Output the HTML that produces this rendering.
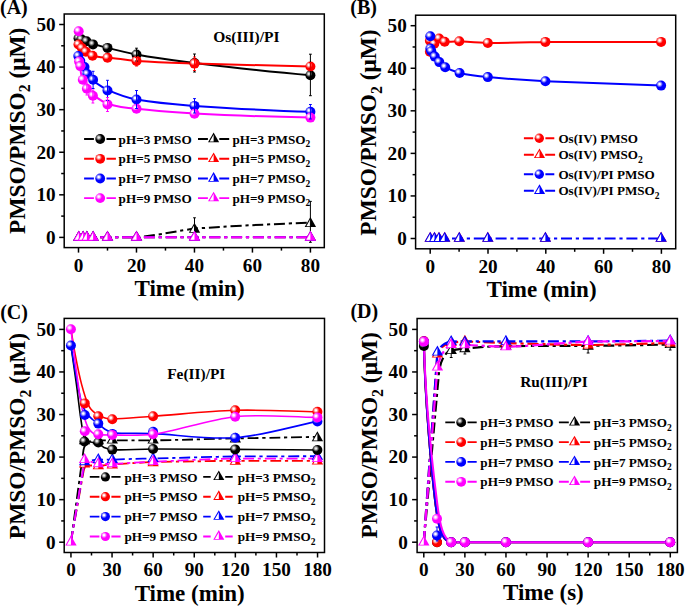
<!DOCTYPE html>
<html><head><meta charset="utf-8"><style>html,body{margin:0;padding:0;background:#fff;overflow:hidden}svg{display:block}</style></head><body>
<svg width="685" height="606" viewBox="0 0 685 606" font-family='"Liberation Serif", serif' font-weight="bold">
<defs>
<radialGradient id="gk" cx="0.35" cy="0.35" r="0.33" fx="0.35" fy="0.35" gradientUnits="objectBoundingBox">
<stop offset="0" stop-color="#e8e8e8"/><stop offset="0.22" stop-color="#e8e8e8"/><stop offset="1" stop-color="#000000"/>
</radialGradient>
<radialGradient id="gr" cx="0.35" cy="0.35" r="0.33" fx="0.35" fy="0.35" gradientUnits="objectBoundingBox">
<stop offset="0" stop-color="#ffffff"/><stop offset="0.22" stop-color="#ffffff"/><stop offset="1" stop-color="#ff0000"/>
</radialGradient>
<radialGradient id="gb" cx="0.35" cy="0.35" r="0.33" fx="0.35" fy="0.35" gradientUnits="objectBoundingBox">
<stop offset="0" stop-color="#ffffff"/><stop offset="0.22" stop-color="#ffffff"/><stop offset="1" stop-color="#0000ff"/>
</radialGradient>
<radialGradient id="gm" cx="0.35" cy="0.35" r="0.33" fx="0.35" fy="0.35" gradientUnits="objectBoundingBox">
<stop offset="0" stop-color="#ffffff"/><stop offset="0.22" stop-color="#ffffff"/><stop offset="1" stop-color="#ff00ff"/>
</radialGradient>
</defs>
<rect width="685" height="606" fill="#fff"/>
<rect x="64.2" y="14" width="260.1" height="233.6" fill="none" stroke="#000" stroke-width="1.5"/>
<path d="M59.2,237.4 H64.2" stroke="#000" stroke-width="1.5"/>
<text x="55.6" y="243.7" font-size="19.2" text-anchor="end">0</text>
<path d="M61.2,216.11 H64.2" stroke="#000" stroke-width="1.5"/>
<path d="M59.2,194.82 H64.2" stroke="#000" stroke-width="1.5"/>
<text x="55.6" y="201.12" font-size="19.2" text-anchor="end">10</text>
<path d="M61.2,173.53 H64.2" stroke="#000" stroke-width="1.5"/>
<path d="M59.2,152.24 H64.2" stroke="#000" stroke-width="1.5"/>
<text x="55.6" y="158.54" font-size="19.2" text-anchor="end">20</text>
<path d="M61.2,130.95 H64.2" stroke="#000" stroke-width="1.5"/>
<path d="M59.2,109.66 H64.2" stroke="#000" stroke-width="1.5"/>
<text x="55.6" y="115.96" font-size="19.2" text-anchor="end">30</text>
<path d="M61.2,88.37 H64.2" stroke="#000" stroke-width="1.5"/>
<path d="M59.2,67.08 H64.2" stroke="#000" stroke-width="1.5"/>
<text x="55.6" y="73.38" font-size="19.2" text-anchor="end">40</text>
<path d="M61.2,45.79 H64.2" stroke="#000" stroke-width="1.5"/>
<path d="M59.2,24.5 H64.2" stroke="#000" stroke-width="1.5"/>
<text x="55.6" y="30.8" font-size="19.2" text-anchor="end">50</text>
<path d="M78.5,247.6 V252.6" stroke="#000" stroke-width="1.5"/>
<text x="78.5" y="271.7" font-size="19.2" text-anchor="middle">0</text>
<path d="M136.48,247.6 V252.6" stroke="#000" stroke-width="1.5"/>
<text x="136.48" y="271.7" font-size="19.2" text-anchor="middle">20</text>
<path d="M194.46,247.6 V252.6" stroke="#000" stroke-width="1.5"/>
<text x="194.46" y="271.7" font-size="19.2" text-anchor="middle">40</text>
<path d="M252.44,247.6 V252.6" stroke="#000" stroke-width="1.5"/>
<text x="252.44" y="271.7" font-size="19.2" text-anchor="middle">60</text>
<path d="M310.42,247.6 V252.6" stroke="#000" stroke-width="1.5"/>
<text x="310.42" y="271.7" font-size="19.2" text-anchor="middle">80</text>
<path d="M107.49,247.6 V250.6" stroke="#000" stroke-width="1.5"/>
<path d="M165.47,247.6 V250.6" stroke="#000" stroke-width="1.5"/>
<path d="M223.45,247.6 V250.6" stroke="#000" stroke-width="1.5"/>
<path d="M281.43,247.6 V250.6" stroke="#000" stroke-width="1.5"/>
<text transform="translate(24.5,130.75) rotate(-90)" font-size="23.4" text-anchor="middle">PMSO/PMSO<tspan font-size="15.8" dy="5.5">2</tspan><tspan dy="-5.5"> (μM)</tspan></text>
<text x="189.5" y="296.1" font-size="23" text-anchor="middle">Time (min)</text>
<text x="0" y="13.5" font-size="20" text-anchor="start">(A)</text>
<text x="213.2" y="41.9" font-size="15.5" text-anchor="start">Os(III)/PI</text>
<path d="M78.5,237.3 L136.5,237.3 C160,235 180,230.5 194.5,228.6 C240,225.5 280,223.8 310.4,222.6" fill="none" stroke="#000000" stroke-width="2" stroke-dasharray="11 3.8 3.2 3.8"/>
<path d="M78.5,237.3 H310.4" fill="none" stroke="#ff0000" stroke-width="2" stroke-dasharray="11 3.8 3.2 3.8"/>
<path d="M78.5,237.3 H310.4" fill="none" stroke="#0000ff" stroke-width="2" stroke-dasharray="11 3.8 3.2 3.8"/>
<path d="M78.5,237.3 H310.4" fill="none" stroke="#ff00ff" stroke-width="2" stroke-dasharray="11 3.8 3.2 3.8"/>
<path d="M78.5,38.3 C84,40.5 95,45 107.5,47.9 C120,51 130,53.3 136.5,54.6 C160,59 180,61.2 194.5,63.0 C240,68.5 280,72.8 310.4,75.3" fill="none" stroke="#000000" stroke-width="2"/>
<path d="M78.5,42 C82,50 88,54.5 93,56 C100,57.2 104,57.6 107.5,57.8 C120,59 130,60.3 136.5,60.9 C160,62.3 180,63 194.5,63.6 C240,65 280,66 310.4,66.5" fill="none" stroke="#ff0000" stroke-width="2"/>
<path d="M78.5,56 C80,64 84,72 88,76 C92,80 98,85 107.5,89.8 C118,94.5 128,97.8 136.5,99.5 C160,103.5 180,104.8 194.5,105.9 C240,109 280,111 310.4,111.8" fill="none" stroke="#0000ff" stroke-width="2"/>
<path d="M78.6,31.2 C78.8,45 79,58 80,67 C81,76 84,85 88,89.5 C93,95 100,100.5 107.5,103.8 C118,107 128,108.2 136.5,108.8 C160,111.5 180,112.6 194.5,113.6 C240,116 280,117 310.4,117.6" fill="none" stroke="#ff00ff" stroke-width="2"/>
<circle cx="78.5" cy="38.3" r="5" fill="url(#gk)"/>
<circle cx="81.4" cy="39.3" r="5" fill="url(#gk)"/>
<circle cx="86.5" cy="41.2" r="5" fill="url(#gk)"/>
<circle cx="93" cy="44.4" r="5" fill="url(#gk)"/>
<circle cx="107.5" cy="47.9" r="5" fill="url(#gk)"/>
<circle cx="136.5" cy="54.6" r="5" fill="url(#gk)"/>
<circle cx="194.5" cy="63" r="5" fill="url(#gk)"/>
<circle cx="310.4" cy="75.3" r="5" fill="url(#gk)"/>
<circle cx="78.5" cy="44.5" r="5" fill="url(#gr)"/>
<circle cx="81.9" cy="48.1" r="5" fill="url(#gr)"/>
<circle cx="85.9" cy="51.8" r="5" fill="url(#gr)"/>
<circle cx="92.5" cy="55.8" r="5" fill="url(#gr)"/>
<circle cx="107.5" cy="57.8" r="5" fill="url(#gr)"/>
<circle cx="136.5" cy="60.9" r="5" fill="url(#gr)"/>
<circle cx="194.5" cy="63.6" r="5" fill="url(#gr)"/>
<circle cx="310.4" cy="66.5" r="5" fill="url(#gr)"/>
<circle cx="78.3" cy="56" r="5" fill="url(#gb)"/>
<circle cx="80.3" cy="61" r="5" fill="url(#gb)"/>
<circle cx="84.5" cy="67" r="5" fill="url(#gb)"/>
<circle cx="87.3" cy="74" r="5" fill="url(#gb)"/>
<circle cx="93.1" cy="79.8" r="5" fill="url(#gb)"/>
<circle cx="107.5" cy="90.5" r="5" fill="url(#gb)"/>
<circle cx="136.5" cy="99.5" r="5" fill="url(#gb)"/>
<circle cx="194.5" cy="105.9" r="5" fill="url(#gb)"/>
<circle cx="310.4" cy="111.8" r="5" fill="url(#gb)"/>
<circle cx="78.7" cy="31.2" r="5" fill="url(#gm)"/>
<circle cx="79.1" cy="61.5" r="5" fill="url(#gm)"/>
<circle cx="80.3" cy="66.1" r="5" fill="url(#gm)"/>
<circle cx="82.8" cy="79.7" r="5" fill="url(#gm)"/>
<circle cx="86.9" cy="88.7" r="5" fill="url(#gm)"/>
<circle cx="92.9" cy="95.8" r="5" fill="url(#gm)"/>
<circle cx="107.5" cy="104.4" r="5" fill="url(#gm)"/>
<circle cx="136.5" cy="108.8" r="5" fill="url(#gm)"/>
<circle cx="194.5" cy="113.8" r="5" fill="url(#gm)"/>
<circle cx="310.4" cy="117.6" r="5" fill="url(#gm)"/>
<path d="M136.5,48.2 V61 M135.1,48.2 H137.9 M135.1,61 H137.9" stroke="#000000" stroke-width="1.0" fill="none"/>
<path d="M194.5,54 V72 M193.1,54 H195.9 M193.1,72 H195.9" stroke="#000000" stroke-width="1.0" fill="none"/>
<path d="M310.4,54.2 V95.7 M309,54.2 H311.8 M309,95.7 H311.8" stroke="#000000" stroke-width="1.0" fill="none"/>
<path d="M136.5,57.5 V66 M135.1,57.5 H137.9 M135.1,66 H137.9" stroke="#ff0000" stroke-width="1.0" fill="none"/>
<path d="M194.5,57 V70.5 M193.1,57 H195.9 M193.1,70.5 H195.9" stroke="#ff0000" stroke-width="1.0" fill="none"/>
<path d="M310.4,62.5 V70.5 M309,62.5 H311.8 M309,70.5 H311.8" stroke="#ff0000" stroke-width="1.0" fill="none"/>
<path d="M93.1,71.3 V88.5 M91.7,71.3 H94.5 M91.7,88.5 H94.5" stroke="#0000ff" stroke-width="1.0" fill="none"/>
<path d="M107.5,80.3 V100.5 M106.1,80.3 H108.9 M106.1,100.5 H108.9" stroke="#0000ff" stroke-width="1.0" fill="none"/>
<path d="M136.5,90.5 V108.5 M135.1,90.5 H137.9 M135.1,108.5 H137.9" stroke="#0000ff" stroke-width="1.0" fill="none"/>
<path d="M194.5,98.6 V113 M193.1,98.6 H195.9 M193.1,113 H195.9" stroke="#0000ff" stroke-width="1.0" fill="none"/>
<path d="M310.4,104.5 V119 M309,104.5 H311.8 M309,119 H311.8" stroke="#0000ff" stroke-width="1.0" fill="none"/>
<path d="M92.9,90 V103 M91.5,90 H94.3 M91.5,103 H94.3" stroke="#ff00ff" stroke-width="1.0" fill="none"/>
<path d="M107.5,97.5 V111.5 M106.1,97.5 H108.9 M106.1,111.5 H108.9" stroke="#ff00ff" stroke-width="1.0" fill="none"/>
<path d="M86.9,83 V95 M85.5,83 H88.3 M85.5,95 H88.3" stroke="#ff00ff" stroke-width="1.0" fill="none"/>
<path d="M78.8,230.63 L84.5,240.63 L73.1,240.63 Z" fill="#000000"/>
<path d="M78.8,232.75 L78.8,239.83 L74.76,239.83 Z" fill="#fff"/>
<path d="M83.1,230.63 L88.8,240.63 L77.4,240.63 Z" fill="#000000"/>
<path d="M83.1,232.75 L83.1,239.83 L79.06,239.83 Z" fill="#fff"/>
<path d="M86.9,230.63 L92.6,240.63 L81.2,240.63 Z" fill="#000000"/>
<path d="M86.9,232.75 L86.9,239.83 L82.86,239.83 Z" fill="#fff"/>
<path d="M93.1,230.63 L98.8,240.63 L87.4,240.63 Z" fill="#000000"/>
<path d="M93.1,232.75 L93.1,239.83 L89.06,239.83 Z" fill="#fff"/>
<path d="M107.5,230.63 L113.2,240.63 L101.8,240.63 Z" fill="#000000"/>
<path d="M107.5,232.75 L107.5,239.83 L103.46,239.83 Z" fill="#fff"/>
<path d="M136.5,230.63 L142.2,240.63 L130.8,240.63 Z" fill="#000000"/>
<path d="M136.5,232.75 L136.5,239.83 L132.46,239.83 Z" fill="#fff"/>
<path d="M194.5,222.73 L200.2,232.73 L188.8,232.73 Z" fill="#000000"/>
<path d="M194.5,224.85 L194.5,231.93 L190.46,231.93 Z" fill="#fff"/>
<path d="M310.4,216.93 L316.1,226.93 L304.7,226.93 Z" fill="#000000"/>
<path d="M310.4,219.05 L310.4,226.13 L306.36,226.13 Z" fill="#fff"/>
<path d="M194.5,217.8 V236 M193.1,217.8 H195.9 M193.1,236 H195.9" stroke="#000000" stroke-width="1.0" fill="none"/>
<path d="M310.4,201.4 V242.3 M309,201.4 H311.8 M309,242.3 H311.8" stroke="#000000" stroke-width="1.0" fill="none"/>
<path d="M78.8,230.63 L84.5,240.63 L73.1,240.63 Z" fill="#ff0000"/>
<path d="M78.8,232.75 L78.8,239.83 L74.76,239.83 Z" fill="#fff"/>
<path d="M83.1,230.63 L88.8,240.63 L77.4,240.63 Z" fill="#ff0000"/>
<path d="M83.1,232.75 L83.1,239.83 L79.06,239.83 Z" fill="#fff"/>
<path d="M86.9,230.63 L92.6,240.63 L81.2,240.63 Z" fill="#ff0000"/>
<path d="M86.9,232.75 L86.9,239.83 L82.86,239.83 Z" fill="#fff"/>
<path d="M93.1,230.63 L98.8,240.63 L87.4,240.63 Z" fill="#ff0000"/>
<path d="M93.1,232.75 L93.1,239.83 L89.06,239.83 Z" fill="#fff"/>
<path d="M107.5,230.63 L113.2,240.63 L101.8,240.63 Z" fill="#ff0000"/>
<path d="M107.5,232.75 L107.5,239.83 L103.46,239.83 Z" fill="#fff"/>
<path d="M136.5,230.63 L142.2,240.63 L130.8,240.63 Z" fill="#ff0000"/>
<path d="M136.5,232.75 L136.5,239.83 L132.46,239.83 Z" fill="#fff"/>
<path d="M194.5,230.63 L200.2,240.63 L188.8,240.63 Z" fill="#ff0000"/>
<path d="M194.5,232.75 L194.5,239.83 L190.46,239.83 Z" fill="#fff"/>
<path d="M310.4,230.63 L316.1,240.63 L304.7,240.63 Z" fill="#ff0000"/>
<path d="M310.4,232.75 L310.4,239.83 L306.36,239.83 Z" fill="#fff"/>
<path d="M78.8,230.63 L84.5,240.63 L73.1,240.63 Z" fill="#0000ff"/>
<path d="M78.8,232.75 L78.8,239.83 L74.76,239.83 Z" fill="#fff"/>
<path d="M83.1,230.63 L88.8,240.63 L77.4,240.63 Z" fill="#0000ff"/>
<path d="M83.1,232.75 L83.1,239.83 L79.06,239.83 Z" fill="#fff"/>
<path d="M86.9,230.63 L92.6,240.63 L81.2,240.63 Z" fill="#0000ff"/>
<path d="M86.9,232.75 L86.9,239.83 L82.86,239.83 Z" fill="#fff"/>
<path d="M93.1,230.63 L98.8,240.63 L87.4,240.63 Z" fill="#0000ff"/>
<path d="M93.1,232.75 L93.1,239.83 L89.06,239.83 Z" fill="#fff"/>
<path d="M107.5,230.63 L113.2,240.63 L101.8,240.63 Z" fill="#0000ff"/>
<path d="M107.5,232.75 L107.5,239.83 L103.46,239.83 Z" fill="#fff"/>
<path d="M136.5,230.63 L142.2,240.63 L130.8,240.63 Z" fill="#0000ff"/>
<path d="M136.5,232.75 L136.5,239.83 L132.46,239.83 Z" fill="#fff"/>
<path d="M194.5,230.63 L200.2,240.63 L188.8,240.63 Z" fill="#0000ff"/>
<path d="M194.5,232.75 L194.5,239.83 L190.46,239.83 Z" fill="#fff"/>
<path d="M310.4,230.63 L316.1,240.63 L304.7,240.63 Z" fill="#0000ff"/>
<path d="M310.4,232.75 L310.4,239.83 L306.36,239.83 Z" fill="#fff"/>
<path d="M78.8,230.63 L84.5,240.63 L73.1,240.63 Z" fill="#ff00ff"/>
<path d="M78.8,232.75 L78.8,239.83 L74.76,239.83 Z" fill="#fff"/>
<path d="M83.1,230.63 L88.8,240.63 L77.4,240.63 Z" fill="#ff00ff"/>
<path d="M83.1,232.75 L83.1,239.83 L79.06,239.83 Z" fill="#fff"/>
<path d="M86.9,230.63 L92.6,240.63 L81.2,240.63 Z" fill="#ff00ff"/>
<path d="M86.9,232.75 L86.9,239.83 L82.86,239.83 Z" fill="#fff"/>
<path d="M93.1,230.63 L98.8,240.63 L87.4,240.63 Z" fill="#ff00ff"/>
<path d="M93.1,232.75 L93.1,239.83 L89.06,239.83 Z" fill="#fff"/>
<path d="M107.5,230.63 L113.2,240.63 L101.8,240.63 Z" fill="#ff00ff"/>
<path d="M107.5,232.75 L107.5,239.83 L103.46,239.83 Z" fill="#fff"/>
<path d="M136.5,230.63 L142.2,240.63 L130.8,240.63 Z" fill="#ff00ff"/>
<path d="M136.5,232.75 L136.5,239.83 L132.46,239.83 Z" fill="#fff"/>
<path d="M194.5,230.63 L200.2,240.63 L188.8,240.63 Z" fill="#ff00ff"/>
<path d="M194.5,232.75 L194.5,239.83 L190.46,239.83 Z" fill="#fff"/>
<path d="M310.4,230.63 L316.1,240.63 L304.7,240.63 Z" fill="#ff00ff"/>
<path d="M310.4,232.75 L310.4,239.83 L306.36,239.83 Z" fill="#fff"/>
<path d="M84.1,139 H93.9 M106.5,139 H115.9" stroke="#000000" stroke-width="1.9"/>
<circle cx="100.2" cy="139" r="4.9" fill="url(#gk)"/>
<text x="118.6" y="143.6" font-size="13.2" text-anchor="start">pH=3 PMSO</text>
<path d="M198,139 H207.9 M219.3,139 H229.2" stroke="#000000" stroke-width="1.9"/>
<path d="M213.6,132.6 L219.15,142.2 L208.05,142.2 Z" fill="#000000"/>
<path d="M213.6,134.7 L213.6,141.4 L209.73,141.4 Z" fill="#fff"/>
<text x="232.5" y="143.6" font-size="13.2" text-anchor="start">pH=3 PMSO<tspan font-size="9.5" dy="3.6">2</tspan></text>
<path d="M84.1,158.8 H93.9 M106.5,158.8 H115.9" stroke="#ff0000" stroke-width="1.9"/>
<circle cx="100.2" cy="158.8" r="4.9" fill="url(#gr)"/>
<text x="118.6" y="163.4" font-size="13.2" text-anchor="start">pH=5 PMSO</text>
<path d="M198,158.8 H207.9 M219.3,158.8 H229.2" stroke="#ff0000" stroke-width="1.9"/>
<path d="M213.6,152.4 L219.15,162 L208.05,162 Z" fill="#ff0000"/>
<path d="M213.6,154.5 L213.6,161.2 L209.73,161.2 Z" fill="#fff"/>
<text x="232.5" y="163.4" font-size="13.2" text-anchor="start">pH=5 PMSO<tspan font-size="9.5" dy="3.6">2</tspan></text>
<path d="M84.1,178.5 H93.9 M106.5,178.5 H115.9" stroke="#0000ff" stroke-width="1.9"/>
<circle cx="100.2" cy="178.5" r="4.9" fill="url(#gb)"/>
<text x="118.6" y="183.1" font-size="13.2" text-anchor="start">pH=7 PMSO</text>
<path d="M198,178.5 H207.9 M219.3,178.5 H229.2" stroke="#0000ff" stroke-width="1.9"/>
<path d="M213.6,172.1 L219.15,181.7 L208.05,181.7 Z" fill="#0000ff"/>
<path d="M213.6,174.2 L213.6,180.9 L209.73,180.9 Z" fill="#fff"/>
<text x="232.5" y="183.1" font-size="13.2" text-anchor="start">pH=7 PMSO<tspan font-size="9.5" dy="3.6">2</tspan></text>
<path d="M84.1,198.1 H93.9 M106.5,198.1 H115.9" stroke="#ff00ff" stroke-width="1.9"/>
<circle cx="100.2" cy="198.1" r="4.9" fill="url(#gm)"/>
<text x="118.6" y="202.7" font-size="13.2" text-anchor="start">pH=9 PMSO</text>
<path d="M198,198.1 H207.9 M219.3,198.1 H229.2" stroke="#ff00ff" stroke-width="1.9"/>
<path d="M213.6,191.7 L219.15,201.3 L208.05,201.3 Z" fill="#ff00ff"/>
<path d="M213.6,193.8 L213.6,200.5 L209.73,200.5 Z" fill="#fff"/>
<text x="232.5" y="202.7" font-size="13.2" text-anchor="start">pH=9 PMSO<tspan font-size="9.5" dy="3.6">2</tspan></text>
<rect x="415.6" y="15.2" width="260.1" height="233.6" fill="none" stroke="#000" stroke-width="1.5"/>
<path d="M410.6,238.5 H415.6" stroke="#000" stroke-width="1.5"/>
<text x="406.8" y="244.8" font-size="19.2" text-anchor="end">0</text>
<path d="M412.6,217.22 H415.6" stroke="#000" stroke-width="1.5"/>
<path d="M410.6,195.94 H415.6" stroke="#000" stroke-width="1.5"/>
<text x="406.8" y="202.24" font-size="19.2" text-anchor="end">10</text>
<path d="M412.6,174.66 H415.6" stroke="#000" stroke-width="1.5"/>
<path d="M410.6,153.38 H415.6" stroke="#000" stroke-width="1.5"/>
<text x="406.8" y="159.68" font-size="19.2" text-anchor="end">20</text>
<path d="M412.6,132.1 H415.6" stroke="#000" stroke-width="1.5"/>
<path d="M410.6,110.82 H415.6" stroke="#000" stroke-width="1.5"/>
<text x="406.8" y="117.12" font-size="19.2" text-anchor="end">30</text>
<path d="M412.6,89.54 H415.6" stroke="#000" stroke-width="1.5"/>
<path d="M410.6,68.26 H415.6" stroke="#000" stroke-width="1.5"/>
<text x="406.8" y="74.56" font-size="19.2" text-anchor="end">40</text>
<path d="M412.6,46.98 H415.6" stroke="#000" stroke-width="1.5"/>
<path d="M410.6,25.7 H415.6" stroke="#000" stroke-width="1.5"/>
<text x="406.8" y="32" font-size="19.2" text-anchor="end">50</text>
<path d="M430.2,248.8 V253.8" stroke="#000" stroke-width="1.5"/>
<text x="430.2" y="273" font-size="19.2" text-anchor="middle">0</text>
<path d="M488,248.8 V253.8" stroke="#000" stroke-width="1.5"/>
<text x="488" y="273" font-size="19.2" text-anchor="middle">20</text>
<path d="M545.8,248.8 V253.8" stroke="#000" stroke-width="1.5"/>
<text x="545.8" y="273" font-size="19.2" text-anchor="middle">40</text>
<path d="M603.6,248.8 V253.8" stroke="#000" stroke-width="1.5"/>
<text x="603.6" y="273" font-size="19.2" text-anchor="middle">60</text>
<path d="M661.4,248.8 V253.8" stroke="#000" stroke-width="1.5"/>
<text x="661.4" y="273" font-size="19.2" text-anchor="middle">80</text>
<path d="M459.1,248.8 V251.8" stroke="#000" stroke-width="1.5"/>
<path d="M516.9,248.8 V251.8" stroke="#000" stroke-width="1.5"/>
<path d="M574.7,248.8 V251.8" stroke="#000" stroke-width="1.5"/>
<path d="M632.5,248.8 V251.8" stroke="#000" stroke-width="1.5"/>
<text transform="translate(376.4,132.5) rotate(-90)" font-size="23.4" text-anchor="middle">PMSO/PMSO<tspan font-size="15.8" dy="5.5">2</tspan><tspan dy="-5.5"> (μM)</tspan></text>
<text x="541.5" y="297.1" font-size="23" text-anchor="middle">Time (min)</text>
<text x="350.3" y="14" font-size="20" text-anchor="start">(B)</text>
<path d="M430.2,238.5 H661.4" fill="none" stroke="#0000ff" stroke-width="2" stroke-dasharray="11 3.8 3.2 3.8"/>
<path d="M429.9,40.8 C432,42.5 436,40 439.1,39.5 C441,39.8 443,41.2 444.7,41.6 C450,41.8 455,41.4 459.3,41.3 C470,42 480,42.8 487.8,43.0 C510,43 530,42.2 545.4,41.9 C590,41.7 630,41.8 661.1,41.9" fill="none" stroke="#ff0000" stroke-width="2"/>
<path d="M430.3,36.3 C430.3,42 430.4,46 431.3,51.2 C432.5,54 433.5,55.3 434.8,56.6 C436.5,58.5 438,60.8 439.3,62.1 C441,63.8 443,65.7 445.2,67.2 C450,70 455,71.8 459.6,73.0 C470,75.2 480,76.3 487.8,77.1 C510,79.2 530,80.5 545.4,81.3 C590,83.3 630,84.8 661.1,85.6" fill="none" stroke="#0000ff" stroke-width="2"/>
<circle cx="429.9" cy="51.7" r="5" fill="url(#gr)"/>
<circle cx="429.9" cy="40.8" r="5" fill="url(#gr)"/>
<circle cx="434.3" cy="43.8" r="5" fill="url(#gr)"/>
<circle cx="439.1" cy="38.5" r="5" fill="url(#gr)"/>
<circle cx="444.7" cy="41.8" r="5" fill="url(#gr)"/>
<circle cx="459.3" cy="41.3" r="5" fill="url(#gr)"/>
<circle cx="487.8" cy="43" r="5" fill="url(#gr)"/>
<circle cx="545.4" cy="41.9" r="5" fill="url(#gr)"/>
<circle cx="661.1" cy="41.9" r="5" fill="url(#gr)"/>
<circle cx="430.3" cy="36.3" r="5" fill="url(#gb)"/>
<circle cx="430.4" cy="48.6" r="5" fill="url(#gb)"/>
<circle cx="431.3" cy="51.2" r="5" fill="url(#gb)"/>
<circle cx="434.8" cy="56.6" r="5" fill="url(#gb)"/>
<circle cx="439.3" cy="62.1" r="5" fill="url(#gb)"/>
<circle cx="445.2" cy="67.2" r="5" fill="url(#gb)"/>
<circle cx="459.6" cy="73" r="5" fill="url(#gb)"/>
<circle cx="487.8" cy="77.1" r="5" fill="url(#gb)"/>
<circle cx="545.4" cy="81.3" r="5" fill="url(#gb)"/>
<circle cx="661.1" cy="85.6" r="5" fill="url(#gb)"/>
<path d="M430.2,231.73 L435.9,241.73 L424.5,241.73 Z" fill="#ff0000"/>
<path d="M430.2,233.85 L430.2,240.93 L426.16,240.93 Z" fill="#fff"/>
<path d="M434.5,231.73 L440.2,241.73 L428.8,241.73 Z" fill="#ff0000"/>
<path d="M434.5,233.85 L434.5,240.93 L430.46,240.93 Z" fill="#fff"/>
<path d="M439,231.73 L444.7,241.73 L433.3,241.73 Z" fill="#ff0000"/>
<path d="M439,233.85 L439,240.93 L434.96,240.93 Z" fill="#fff"/>
<path d="M444.7,231.73 L450.4,241.73 L439,241.73 Z" fill="#ff0000"/>
<path d="M444.7,233.85 L444.7,240.93 L440.66,240.93 Z" fill="#fff"/>
<path d="M459.3,231.73 L465,241.73 L453.6,241.73 Z" fill="#ff0000"/>
<path d="M459.3,233.85 L459.3,240.93 L455.26,240.93 Z" fill="#fff"/>
<path d="M487.8,231.73 L493.5,241.73 L482.1,241.73 Z" fill="#ff0000"/>
<path d="M487.8,233.85 L487.8,240.93 L483.76,240.93 Z" fill="#fff"/>
<path d="M545.4,231.73 L551.1,241.73 L539.7,241.73 Z" fill="#ff0000"/>
<path d="M545.4,233.85 L545.4,240.93 L541.36,240.93 Z" fill="#fff"/>
<path d="M661.1,231.73 L666.8,241.73 L655.4,241.73 Z" fill="#ff0000"/>
<path d="M661.1,233.85 L661.1,240.93 L657.06,240.93 Z" fill="#fff"/>
<path d="M430.2,231.73 L435.9,241.73 L424.5,241.73 Z" fill="#0000ff"/>
<path d="M430.2,233.85 L430.2,240.93 L426.16,240.93 Z" fill="#fff"/>
<path d="M434.5,231.73 L440.2,241.73 L428.8,241.73 Z" fill="#0000ff"/>
<path d="M434.5,233.85 L434.5,240.93 L430.46,240.93 Z" fill="#fff"/>
<path d="M439,231.73 L444.7,241.73 L433.3,241.73 Z" fill="#0000ff"/>
<path d="M439,233.85 L439,240.93 L434.96,240.93 Z" fill="#fff"/>
<path d="M444.7,231.73 L450.4,241.73 L439,241.73 Z" fill="#0000ff"/>
<path d="M444.7,233.85 L444.7,240.93 L440.66,240.93 Z" fill="#fff"/>
<path d="M459.3,231.73 L465,241.73 L453.6,241.73 Z" fill="#0000ff"/>
<path d="M459.3,233.85 L459.3,240.93 L455.26,240.93 Z" fill="#fff"/>
<path d="M487.8,231.73 L493.5,241.73 L482.1,241.73 Z" fill="#0000ff"/>
<path d="M487.8,233.85 L487.8,240.93 L483.76,240.93 Z" fill="#fff"/>
<path d="M545.4,231.73 L551.1,241.73 L539.7,241.73 Z" fill="#0000ff"/>
<path d="M545.4,233.85 L545.4,240.93 L541.36,240.93 Z" fill="#fff"/>
<path d="M661.1,231.73 L666.8,241.73 L655.4,241.73 Z" fill="#0000ff"/>
<path d="M661.1,233.85 L661.1,240.93 L657.06,240.93 Z" fill="#fff"/>
<path d="M523.9,138.2 H533.2 M545.4,138.2 H554.3" stroke="#ff0000" stroke-width="1.9"/>
<circle cx="539.3" cy="138.2" r="4.7" fill="url(#gr)"/>
<text x="558.4" y="142.8" font-size="13.1" text-anchor="start">Os(IV) PMSO</text>
<path d="M523.9,154.8 H533.8 M545.2,154.8 H555.1" stroke="#ff0000" stroke-width="1.9"/>
<path d="M539.5,148.4 L545.05,158 L533.95,158 Z" fill="#ff0000"/>
<path d="M539.5,150.5 L539.5,157.2 L535.63,157.2 Z" fill="#fff"/>
<text x="558.4" y="159.4" font-size="13.1" text-anchor="start">Os(IV) PMSO<tspan font-size="9.5" dy="3.6">2</tspan></text>
<path d="M523.9,174.2 H533.2 M545.4,174.2 H554.3" stroke="#0000ff" stroke-width="1.9"/>
<circle cx="539.3" cy="174.2" r="4.7" fill="url(#gb)"/>
<text x="558.4" y="178.8" font-size="13.1" text-anchor="start">Os(IV)/PI PMSO</text>
<path d="M523.9,190.7 H533.8 M545.2,190.7 H555.1" stroke="#0000ff" stroke-width="1.9"/>
<path d="M539.5,184.3 L545.05,193.9 L533.95,193.9 Z" fill="#0000ff"/>
<path d="M539.5,186.4 L539.5,193.1 L535.63,193.1 Z" fill="#fff"/>
<text x="558.4" y="195.3" font-size="13.1" text-anchor="start">Os(IV)/PI PMSO<tspan font-size="9.5" dy="3.6">2</tspan></text>
<rect x="64.2" y="318.4" width="260.3" height="234.1" fill="none" stroke="#000" stroke-width="1.5"/>
<path d="M59.2,542.2 H64.2" stroke="#000" stroke-width="1.5"/>
<text x="55.6" y="548.5" font-size="19.2" text-anchor="end">0</text>
<path d="M61.2,520.92 H64.2" stroke="#000" stroke-width="1.5"/>
<path d="M59.2,499.64 H64.2" stroke="#000" stroke-width="1.5"/>
<text x="55.6" y="505.94" font-size="19.2" text-anchor="end">10</text>
<path d="M61.2,478.36 H64.2" stroke="#000" stroke-width="1.5"/>
<path d="M59.2,457.08 H64.2" stroke="#000" stroke-width="1.5"/>
<text x="55.6" y="463.38" font-size="19.2" text-anchor="end">20</text>
<path d="M61.2,435.8 H64.2" stroke="#000" stroke-width="1.5"/>
<path d="M59.2,414.52 H64.2" stroke="#000" stroke-width="1.5"/>
<text x="55.6" y="420.82" font-size="19.2" text-anchor="end">30</text>
<path d="M61.2,393.24 H64.2" stroke="#000" stroke-width="1.5"/>
<path d="M59.2,371.96 H64.2" stroke="#000" stroke-width="1.5"/>
<text x="55.6" y="378.26" font-size="19.2" text-anchor="end">40</text>
<path d="M61.2,350.68 H64.2" stroke="#000" stroke-width="1.5"/>
<path d="M59.2,329.4 H64.2" stroke="#000" stroke-width="1.5"/>
<text x="55.6" y="335.7" font-size="19.2" text-anchor="end">50</text>
<path d="M70.95,552.5 V557.5" stroke="#000" stroke-width="1.5"/>
<text x="70.95" y="576.1" font-size="19.2" text-anchor="middle">0</text>
<path d="M112.05,552.5 V557.5" stroke="#000" stroke-width="1.5"/>
<text x="112.05" y="576.1" font-size="19.2" text-anchor="middle">30</text>
<path d="M153.15,552.5 V557.5" stroke="#000" stroke-width="1.5"/>
<text x="153.15" y="576.1" font-size="19.2" text-anchor="middle">60</text>
<path d="M194.25,552.5 V557.5" stroke="#000" stroke-width="1.5"/>
<text x="194.25" y="576.1" font-size="19.2" text-anchor="middle">90</text>
<path d="M235.35,552.5 V557.5" stroke="#000" stroke-width="1.5"/>
<text x="235.35" y="576.1" font-size="19.2" text-anchor="middle">120</text>
<path d="M276.45,552.5 V557.5" stroke="#000" stroke-width="1.5"/>
<text x="276.45" y="576.1" font-size="19.2" text-anchor="middle">150</text>
<path d="M317.55,552.5 V557.5" stroke="#000" stroke-width="1.5"/>
<text x="317.55" y="576.1" font-size="19.2" text-anchor="middle">180</text>
<path d="M91.5,552.5 V555.5" stroke="#000" stroke-width="1.5"/>
<path d="M132.6,552.5 V555.5" stroke="#000" stroke-width="1.5"/>
<path d="M173.7,552.5 V555.5" stroke="#000" stroke-width="1.5"/>
<path d="M214.8,552.5 V555.5" stroke="#000" stroke-width="1.5"/>
<path d="M255.9,552.5 V555.5" stroke="#000" stroke-width="1.5"/>
<path d="M297,552.5 V555.5" stroke="#000" stroke-width="1.5"/>
<text transform="translate(25,436) rotate(-90)" font-size="23.4" text-anchor="middle">PMSO/PMSO<tspan font-size="15.8" dy="5.5">2</tspan><tspan dy="-5.5"> (μM)</tspan></text>
<text x="189.7" y="600.5" font-size="23" text-anchor="middle">Time (min)</text>
<text x="0.2" y="318.6" font-size="20" text-anchor="start">(C)</text>
<text x="167.2" y="379.2" font-size="15.4" text-anchor="start">Fe(II)/PI</text>
<path d="M70.9,542.0 L83.5,450 C85,442 90,440.2 98.3,440.4 C105,440.4 108,440.4 112,440.4 C130,440.4 140,440.4 153.1,440.4 C190,439.8 210,438.8 235.3,438.4 C270,437.8 300,437.2 317.5,436.8" fill="none" stroke="#000000" stroke-width="1.8" stroke-dasharray="11 3.8 3.2 3.8"/>
<path d="M70.9,542.0 L83.8,470 C85,465 90,465 98.3,466.1 C105,465 108,464.5 112,464.5 C130,463.5 140,462.5 153.1,462 C190,461.5 210,461 235.3,460.8 C270,460.8 300,460.8 317.5,460.8" fill="none" stroke="#ff0000" stroke-width="1.8" stroke-dasharray="11 3.8 3.2 3.8"/>
<path d="M70.9,542.0 L83.8,467 C85,462 90,460 98.3,459.7 C105,459.7 108,459.7 112,459.7 C130,459 140,458.6 153.1,458.6 C190,457.5 210,456.8 235.3,456.5 C270,456.3 300,456.3 317.5,456.2" fill="none" stroke="#0000ff" stroke-width="1.8" stroke-dasharray="11 3.8 3.2 3.8"/>
<path d="M70.9,542.0 L84,464 C85.5,459 90,461.5 98.3,464 C105,464 108,464 112,464 C130,463 140,462 153.1,461.8 C190,460 210,459 235.3,458.6 C270,458.6 300,458.6 317.5,458.6" fill="none" stroke="#ff00ff" stroke-width="1.8" stroke-dasharray="11 3.8 3.2 3.8"/>
<path d="M70.9,345.5 C72.77,358.67 74.77,372.23 76.5,385 C78.12,397.01 79.43,410.44 81,420 C82.1,426.7 82.63,433.37 84.4,437 C85.4,439.05 86.62,440.34 88,441.2 C89.2,441.94 90.51,441.86 92,442.2 C93.86,442.62 96.33,442.65 98.3,443.5 C100.35,444.38 101.82,446.5 104,447.5 C106.42,448.61 108.45,449.15 112.3,449.6 C120.72,450.59 137.15,449.08 153.1,449 C175.73,448.89 207.83,449.23 235.2,449.4 C262.59,449.57 290,449.8 317.4,450" fill="none" stroke="#000000" stroke-width="1.6"/>
<path d="M70.9,329.2 C72.33,337.7 73.51,345.9 75.2,354.7 C77.03,364.24 79.23,375.59 81.6,384.4 C83.54,391.64 85.9,399.41 87.9,403.9 C89.03,406.45 89.85,407.96 91.2,409.6 C92.5,411.18 94.2,412.48 95.8,413.6 C97.31,414.65 98.84,415.44 100.5,416.2 C102.23,416.99 104.08,417.77 106,418.2 C108,418.65 109.28,418.75 112.3,418.8 C119.97,418.93 137.15,417.37 153.1,416.3 C175.73,414.78 207.81,411.05 235.2,410.3 C262.57,409.55 290,411.3 317.4,411.8" fill="none" stroke="#ff0000" stroke-width="1.6"/>
<path d="M70.9,345.5 C72.77,356.33 74.6,368 76.5,378 C78.14,386.62 79.43,395.59 81.5,402 C82.96,406.53 84.45,410.14 86.5,413.2 C88.23,415.78 90.43,417.69 92.5,419.5 C94.38,421.14 96.32,422.16 98.3,423.7 C100.48,425.4 102.61,427.8 105,429.3 C107.29,430.74 109.41,431.9 112.3,432.6 C116.08,433.52 120.66,433.13 126,433.3 C133.51,433.53 141.63,433.25 153.1,433.6 C173.08,434.21 207.95,439.69 235.2,437.7 C262.72,435.69 290,426.83 317.4,421.4" fill="none" stroke="#0000ff" stroke-width="1.6"/>
<path d="M70.9,329.2 C72.77,343.47 74.52,358.19 76.5,372 C78.37,385 80.02,399.7 82.4,409.8 C84.04,416.75 85.57,422.92 87.9,427.1 C89.47,429.93 91.32,432.19 93.3,433.4 C94.86,434.35 96.2,434.32 98.3,434.6 C101.77,435.06 106.41,434.97 112.3,435 C122.35,435.06 137.25,436.12 153.1,434.3 C175.84,431.69 207.67,419.5 235.2,416.7 C262.44,413.93 290,417.17 317.4,417.4" fill="none" stroke="#ff00ff" stroke-width="1.6"/>
<path d="M84.6,434.23 L90.3,444.23 L78.9,444.23 Z" fill="#000000"/>
<path d="M84.6,436.35 L84.6,443.43 L80.56,443.43 Z" fill="#fff"/>
<path d="M98.3,434.23 L104,444.23 L92.6,444.23 Z" fill="#000000"/>
<path d="M98.3,436.35 L98.3,443.43 L94.26,443.43 Z" fill="#fff"/>
<path d="M112.3,433.53 L118,443.53 L106.6,443.53 Z" fill="#000000"/>
<path d="M112.3,435.65 L112.3,442.73 L108.26,442.73 Z" fill="#fff"/>
<path d="M153.1,433.53 L158.8,443.53 L147.4,443.53 Z" fill="#000000"/>
<path d="M153.1,435.65 L153.1,442.73 L149.06,442.73 Z" fill="#fff"/>
<path d="M235.3,432.43 L241,442.43 L229.6,442.43 Z" fill="#000000"/>
<path d="M235.3,434.55 L235.3,441.63 L231.26,441.63 Z" fill="#fff"/>
<path d="M317.4,431.23 L323.1,441.23 L311.7,441.23 Z" fill="#000000"/>
<path d="M317.4,433.35 L317.4,440.43 L313.36,440.43 Z" fill="#fff"/>
<path d="M84.6,457.43 L90.3,467.43 L78.9,467.43 Z" fill="#ff0000"/>
<path d="M84.6,459.55 L84.6,466.63 L80.56,466.63 Z" fill="#fff"/>
<path d="M98.3,459.23 L104,469.23 L92.6,469.23 Z" fill="#ff0000"/>
<path d="M98.3,461.35 L98.3,468.43 L94.26,468.43 Z" fill="#fff"/>
<path d="M112.3,458.43 L118,468.43 L106.6,468.43 Z" fill="#ff0000"/>
<path d="M112.3,460.55 L112.3,467.63 L108.26,467.63 Z" fill="#fff"/>
<path d="M153.1,456.13 L158.8,466.13 L147.4,466.13 Z" fill="#ff0000"/>
<path d="M153.1,458.25 L153.1,465.33 L149.06,465.33 Z" fill="#fff"/>
<path d="M235.3,454.73 L241,464.73 L229.6,464.73 Z" fill="#ff0000"/>
<path d="M235.3,456.85 L235.3,463.93 L231.26,463.93 Z" fill="#fff"/>
<path d="M317.4,454.53 L323.1,464.53 L311.7,464.53 Z" fill="#ff0000"/>
<path d="M317.4,456.65 L317.4,463.73 L313.36,463.73 Z" fill="#fff"/>
<path d="M84.6,455.13 L90.3,465.13 L78.9,465.13 Z" fill="#0000ff"/>
<path d="M84.6,457.25 L84.6,464.33 L80.56,464.33 Z" fill="#fff"/>
<path d="M98.3,452.93 L104,462.93 L92.6,462.93 Z" fill="#0000ff"/>
<path d="M98.3,455.05 L98.3,462.13 L94.26,462.13 Z" fill="#fff"/>
<path d="M112.3,452.93 L118,462.93 L106.6,462.93 Z" fill="#0000ff"/>
<path d="M112.3,455.05 L112.3,462.13 L108.26,462.13 Z" fill="#fff"/>
<path d="M153.1,451.93 L158.8,461.93 L147.4,461.93 Z" fill="#0000ff"/>
<path d="M153.1,454.05 L153.1,461.13 L149.06,461.13 Z" fill="#fff"/>
<path d="M235.3,449.93 L241,459.93 L229.6,459.93 Z" fill="#0000ff"/>
<path d="M235.3,452.05 L235.3,459.13 L231.26,459.13 Z" fill="#fff"/>
<path d="M317.4,449.73 L323.1,459.73 L311.7,459.73 Z" fill="#0000ff"/>
<path d="M317.4,451.85 L317.4,458.93 L313.36,458.93 Z" fill="#fff"/>
<path d="M70.95,535.43 L76.65,545.43 L65.25,545.43 Z" fill="#ff00ff"/>
<path d="M70.95,537.55 L70.95,544.63 L66.91,544.63 Z" fill="#fff"/>
<path d="M84.6,452.93 L90.3,462.93 L78.9,462.93 Z" fill="#ff00ff"/>
<path d="M84.6,455.05 L84.6,462.13 L80.56,462.13 Z" fill="#fff"/>
<path d="M98.3,457.13 L104,467.13 L92.6,467.13 Z" fill="#ff00ff"/>
<path d="M98.3,459.25 L98.3,466.33 L94.26,466.33 Z" fill="#fff"/>
<path d="M112.3,457.13 L118,467.13 L106.6,467.13 Z" fill="#ff00ff"/>
<path d="M112.3,459.25 L112.3,466.33 L108.26,466.33 Z" fill="#fff"/>
<path d="M153.1,454.93 L158.8,464.93 L147.4,464.93 Z" fill="#ff00ff"/>
<path d="M153.1,457.05 L153.1,464.13 L149.06,464.13 Z" fill="#fff"/>
<path d="M235.3,451.93 L241,461.93 L229.6,461.93 Z" fill="#ff00ff"/>
<path d="M235.3,454.05 L235.3,461.13 L231.26,461.13 Z" fill="#fff"/>
<path d="M317.4,451.93 L323.1,461.93 L311.7,461.93 Z" fill="#ff00ff"/>
<path d="M317.4,454.05 L317.4,461.13 L313.36,461.13 Z" fill="#fff"/>
<circle cx="84.4" cy="441.5" r="5" fill="url(#gk)"/>
<circle cx="98.3" cy="442.5" r="5" fill="url(#gk)"/>
<circle cx="112.3" cy="449.6" r="5" fill="url(#gk)"/>
<circle cx="153.1" cy="449" r="5" fill="url(#gk)"/>
<circle cx="235.2" cy="449.4" r="5" fill="url(#gk)"/>
<circle cx="317.4" cy="450" r="5" fill="url(#gk)"/>
<circle cx="84.8" cy="403.4" r="5" fill="url(#gr)"/>
<circle cx="98.3" cy="416.3" r="5" fill="url(#gr)"/>
<circle cx="112.3" cy="419.3" r="5" fill="url(#gr)"/>
<circle cx="153.1" cy="416.3" r="5" fill="url(#gr)"/>
<circle cx="235.2" cy="410.3" r="5" fill="url(#gr)"/>
<circle cx="317.4" cy="411.8" r="5" fill="url(#gr)"/>
<circle cx="70.9" cy="345.5" r="5" fill="url(#gb)"/>
<circle cx="84.8" cy="415" r="5" fill="url(#gb)"/>
<circle cx="98.3" cy="423.6" r="5" fill="url(#gb)"/>
<circle cx="112.3" cy="433.9" r="5" fill="url(#gb)"/>
<circle cx="153.1" cy="431.7" r="5" fill="url(#gb)"/>
<circle cx="235.2" cy="437.7" r="5" fill="url(#gb)"/>
<circle cx="317.4" cy="421.4" r="5" fill="url(#gb)"/>
<circle cx="70.9" cy="329.2" r="5" fill="url(#gm)"/>
<circle cx="84.8" cy="431.3" r="5" fill="url(#gm)"/>
<circle cx="98.3" cy="434.3" r="5" fill="url(#gm)"/>
<circle cx="112.3" cy="435" r="5" fill="url(#gm)"/>
<circle cx="153.1" cy="434.3" r="5" fill="url(#gm)"/>
<circle cx="235.2" cy="416.7" r="5" fill="url(#gm)"/>
<circle cx="317.4" cy="417.4" r="5" fill="url(#gm)"/>
<path d="M89.8,476.9 H99.4 M111.4,476.9 H120.6" stroke="#000000" stroke-width="1.9"/>
<circle cx="105.4" cy="476.9" r="4.6" fill="url(#gk)"/>
<text x="124.5" y="481.5" font-size="13.2" text-anchor="start">pH=3 PMSO</text>
<path d="M203.2,476.9 H210.7 M225.2,476.9 H232.7" stroke="#000000" stroke-width="1.9"/>
<path d="M218.8,470.5 L224.35,480.1 L213.25,480.1 Z" fill="#000000"/>
<path d="M218.8,472.6 L218.8,479.3 L214.93,479.3 Z" fill="#fff"/>
<text x="237.7" y="481.5" font-size="13.2" text-anchor="start">pH=3 PMSO<tspan font-size="9.5" dy="3.6">2</tspan></text>
<path d="M89.8,496.7 H99.4 M111.4,496.7 H120.6" stroke="#ff0000" stroke-width="1.9"/>
<circle cx="105.4" cy="496.7" r="4.6" fill="url(#gr)"/>
<text x="124.5" y="501.3" font-size="13.2" text-anchor="start">pH=5 PMSO</text>
<path d="M203.2,496.7 H210.7 M225.2,496.7 H232.7" stroke="#ff0000" stroke-width="1.9"/>
<path d="M218.8,490.3 L224.35,499.9 L213.25,499.9 Z" fill="#ff0000"/>
<path d="M218.8,492.4 L218.8,499.1 L214.93,499.1 Z" fill="#fff"/>
<text x="237.7" y="501.3" font-size="13.2" text-anchor="start">pH=5 PMSO<tspan font-size="9.5" dy="3.6">2</tspan></text>
<path d="M89.8,516.6 H99.4 M111.4,516.6 H120.6" stroke="#0000ff" stroke-width="1.9"/>
<circle cx="105.4" cy="516.6" r="4.6" fill="url(#gb)"/>
<text x="124.5" y="521.2" font-size="13.2" text-anchor="start">pH=7 PMSO</text>
<path d="M203.2,516.6 H210.7 M225.2,516.6 H232.7" stroke="#0000ff" stroke-width="1.9"/>
<path d="M218.8,510.2 L224.35,519.8 L213.25,519.8 Z" fill="#0000ff"/>
<path d="M218.8,512.3 L218.8,519 L214.93,519 Z" fill="#fff"/>
<text x="237.7" y="521.2" font-size="13.2" text-anchor="start">pH=7 PMSO<tspan font-size="9.5" dy="3.6">2</tspan></text>
<path d="M89.8,536.5 H99.4 M111.4,536.5 H120.6" stroke="#ff00ff" stroke-width="1.9"/>
<circle cx="105.4" cy="536.5" r="4.6" fill="url(#gm)"/>
<text x="124.5" y="541.1" font-size="13.2" text-anchor="start">pH=9 PMSO</text>
<path d="M203.2,536.5 H210.7 M225.2,536.5 H232.7" stroke="#ff00ff" stroke-width="1.9"/>
<path d="M218.8,530.1 L224.35,539.7 L213.25,539.7 Z" fill="#ff00ff"/>
<path d="M218.8,532.2 L218.8,538.9 L214.93,538.9 Z" fill="#fff"/>
<text x="237.7" y="541.1" font-size="13.2" text-anchor="start">pH=9 PMSO<tspan font-size="9.5" dy="3.6">2</tspan></text>
<rect x="417.1" y="318.5" width="260.3" height="234" fill="none" stroke="#000" stroke-width="1.5"/>
<path d="M412.1,542.2 H417.1" stroke="#000" stroke-width="1.5"/>
<text x="407.8" y="548.5" font-size="19.2" text-anchor="end">0</text>
<path d="M414.1,520.92 H417.1" stroke="#000" stroke-width="1.5"/>
<path d="M412.1,499.64 H417.1" stroke="#000" stroke-width="1.5"/>
<text x="407.8" y="505.94" font-size="19.2" text-anchor="end">10</text>
<path d="M414.1,478.36 H417.1" stroke="#000" stroke-width="1.5"/>
<path d="M412.1,457.08 H417.1" stroke="#000" stroke-width="1.5"/>
<text x="407.8" y="463.38" font-size="19.2" text-anchor="end">20</text>
<path d="M414.1,435.8 H417.1" stroke="#000" stroke-width="1.5"/>
<path d="M412.1,414.52 H417.1" stroke="#000" stroke-width="1.5"/>
<text x="407.8" y="420.82" font-size="19.2" text-anchor="end">30</text>
<path d="M414.1,393.24 H417.1" stroke="#000" stroke-width="1.5"/>
<path d="M412.1,371.96 H417.1" stroke="#000" stroke-width="1.5"/>
<text x="407.8" y="378.26" font-size="19.2" text-anchor="end">40</text>
<path d="M414.1,350.68 H417.1" stroke="#000" stroke-width="1.5"/>
<path d="M412.1,329.4 H417.1" stroke="#000" stroke-width="1.5"/>
<text x="407.8" y="335.7" font-size="19.2" text-anchor="end">50</text>
<path d="M423.8,552.5 V557.5" stroke="#000" stroke-width="1.5"/>
<text x="423.8" y="576.2" font-size="19.2" text-anchor="middle">0</text>
<path d="M464.88,552.5 V557.5" stroke="#000" stroke-width="1.5"/>
<text x="464.88" y="576.2" font-size="19.2" text-anchor="middle">30</text>
<path d="M505.96,552.5 V557.5" stroke="#000" stroke-width="1.5"/>
<text x="505.96" y="576.2" font-size="19.2" text-anchor="middle">60</text>
<path d="M547.05,552.5 V557.5" stroke="#000" stroke-width="1.5"/>
<text x="547.05" y="576.2" font-size="19.2" text-anchor="middle">90</text>
<path d="M588.13,552.5 V557.5" stroke="#000" stroke-width="1.5"/>
<text x="588.13" y="576.2" font-size="19.2" text-anchor="middle">120</text>
<path d="M629.21,552.5 V557.5" stroke="#000" stroke-width="1.5"/>
<text x="629.21" y="576.2" font-size="19.2" text-anchor="middle">150</text>
<path d="M670.29,552.5 V557.5" stroke="#000" stroke-width="1.5"/>
<text x="670.29" y="576.2" font-size="19.2" text-anchor="middle">180</text>
<path d="M444.34,552.5 V555.5" stroke="#000" stroke-width="1.5"/>
<path d="M485.42,552.5 V555.5" stroke="#000" stroke-width="1.5"/>
<path d="M526.5,552.5 V555.5" stroke="#000" stroke-width="1.5"/>
<path d="M567.59,552.5 V555.5" stroke="#000" stroke-width="1.5"/>
<path d="M608.67,552.5 V555.5" stroke="#000" stroke-width="1.5"/>
<path d="M649.75,552.5 V555.5" stroke="#000" stroke-width="1.5"/>
<text transform="translate(377.3,435.4) rotate(-90)" font-size="23.4" text-anchor="middle">PMSO/PMSO<tspan font-size="15.8" dy="5.5">2</tspan><tspan dy="-5.5"> (μM)</tspan></text>
<text x="543.4" y="600.3" font-size="23" text-anchor="middle">Time (s)</text>
<text x="350.4" y="318.1" font-size="20" text-anchor="start">(D)</text>
<text x="520.2" y="387.1" font-size="15.4" text-anchor="start">Ru(III)/PI</text>
<path d="M423.8,542.0 L439,372 C441,358 446,352 451.2,350.6 C455,349.5 460,348.8 464.9,348.6 C480,346.8 495,346.3 505.9,346.1 C540,345.9 560,345.8 588.1,345.8 C620,345.6 650,345 670.2,344.4" fill="none" stroke="#000000" stroke-width="2.2" stroke-dasharray="11 3.8 3.2 3.8"/>
<path d="M423.8,542.0 L437.4,354.1 C440,347 446,343.5 451.2,342.6 C455,342 460,341.5 464.9,341.5 C480,342 495,342.5 505.9,343 C540,344 560,344.8 588.1,345.1 C620,344.5 650,343.5 670.2,343.1" fill="none" stroke="#ff0000" stroke-width="2.2" stroke-dasharray="11 3.8 3.2 3.8"/>
<path d="M423.8,542.0 L437.4,352.2 C440,345.5 446,342.2 451.2,341.6 C455,341.4 460,341.4 464.9,341.4 C480,341.4 495,341.4 505.9,341.4 C540,341.4 560,341.4 588.1,341.4 C620,341.2 650,340.8 670.2,340.6" fill="none" stroke="#0000ff" stroke-width="2.2" stroke-dasharray="11 3.8 3.2 3.8"/>
<path d="M423.8,542.0 L437.4,367.2 C440,355 446,347 451.2,344.7 C455,344.7 460,344.8 464.9,344.9 C480,345.5 495,346.5 505.9,346.9 C540,345.5 560,343 588.1,341.6 C620,341.3 650,341.2 670.2,341.1" fill="none" stroke="#ff00ff" stroke-width="2.2" stroke-dasharray="11 3.8 3.2 3.8"/>
<path d="M423.9,345.9 C425,400 431.5,470 435,500 C438,525 441,540 450,542.2 L670.2,542.2" fill="none" stroke="#000000" stroke-width="2"/>
<path d="M423.9,341.8 C425,400 431.5,470 435,500 C438,525 441,540 450,542.2 L670.2,542.2" fill="none" stroke="#ff0000" stroke-width="2"/>
<path d="M423.9,341.8 C425,400 431.5,470 435,500 C438,525 441,540 450,542.2 L670.2,542.2" fill="none" stroke="#0000ff" stroke-width="2"/>
<path d="M423.9,341.8 C425.5,400 433,470 436.8,500 C439.8,525 443,540 452,542.2 L670.2,542.2" fill="none" stroke="#ff00ff" stroke-width="2"/>
<path d="M451.2,345 V357.5 M449.8,345 H452.6 M449.8,357.5 H452.6" stroke="#000000" stroke-width="1.0" fill="none"/>
<path d="M464.9,343.5 V354 M463.5,343.5 H466.3 M463.5,354 H466.3" stroke="#000000" stroke-width="1.0" fill="none"/>
<path d="M588.1,341 V353 M586.7,341 H589.5 M586.7,353 H589.5" stroke="#000000" stroke-width="1.0" fill="none"/>
<path d="M670.2,340 V350 M668.8,340 H671.6 M668.8,350 H671.6" stroke="#000000" stroke-width="1.0" fill="none"/>
<path d="M451.2,343.93 L456.9,353.93 L445.5,353.93 Z" fill="#000000"/>
<path d="M451.2,346.05 L451.2,353.13 L447.16,353.13 Z" fill="#fff"/>
<path d="M464.9,342.13 L470.6,352.13 L459.2,352.13 Z" fill="#000000"/>
<path d="M464.9,344.25 L464.9,351.33 L460.86,351.33 Z" fill="#fff"/>
<path d="M505.9,339.73 L511.6,349.73 L500.2,349.73 Z" fill="#000000"/>
<path d="M505.9,341.85 L505.9,348.93 L501.86,348.93 Z" fill="#fff"/>
<path d="M588.1,339.73 L593.8,349.73 L582.4,349.73 Z" fill="#000000"/>
<path d="M588.1,341.85 L588.1,348.93 L584.06,348.93 Z" fill="#fff"/>
<path d="M670.2,337.93 L675.9,347.93 L664.5,347.93 Z" fill="#000000"/>
<path d="M670.2,340.05 L670.2,347.13 L666.16,347.13 Z" fill="#fff"/>
<path d="M437.4,347.43 L443.1,357.43 L431.7,357.43 Z" fill="#ff0000"/>
<path d="M437.4,349.55 L437.4,356.63 L433.36,356.63 Z" fill="#fff"/>
<path d="M451.2,335.93 L456.9,345.93 L445.5,345.93 Z" fill="#ff0000"/>
<path d="M451.2,338.05 L451.2,345.13 L447.16,345.13 Z" fill="#fff"/>
<path d="M464.9,334.73 L470.6,344.73 L459.2,344.73 Z" fill="#ff0000"/>
<path d="M464.9,336.85 L464.9,343.93 L460.86,343.93 Z" fill="#fff"/>
<path d="M505.9,336.43 L511.6,346.43 L500.2,346.43 Z" fill="#ff0000"/>
<path d="M505.9,338.55 L505.9,345.63 L501.86,345.63 Z" fill="#fff"/>
<path d="M588.1,338.43 L593.8,348.43 L582.4,348.43 Z" fill="#ff0000"/>
<path d="M588.1,340.55 L588.1,347.63 L584.06,347.63 Z" fill="#fff"/>
<path d="M670.2,336.43 L675.9,346.43 L664.5,346.43 Z" fill="#ff0000"/>
<path d="M670.2,338.55 L670.2,345.63 L666.16,345.63 Z" fill="#fff"/>
<path d="M437.4,345.53 L443.1,355.53 L431.7,355.53 Z" fill="#0000ff"/>
<path d="M437.4,347.65 L437.4,354.73 L433.36,354.73 Z" fill="#fff"/>
<path d="M451.2,334.93 L456.9,344.93 L445.5,344.93 Z" fill="#0000ff"/>
<path d="M451.2,337.05 L451.2,344.13 L447.16,344.13 Z" fill="#fff"/>
<path d="M464.9,335.43 L470.6,345.43 L459.2,345.43 Z" fill="#0000ff"/>
<path d="M464.9,337.55 L464.9,344.63 L460.86,344.63 Z" fill="#fff"/>
<path d="M505.9,334.73 L511.6,344.73 L500.2,344.73 Z" fill="#0000ff"/>
<path d="M505.9,336.85 L505.9,343.93 L501.86,343.93 Z" fill="#fff"/>
<path d="M588.1,334.73 L593.8,344.73 L582.4,344.73 Z" fill="#0000ff"/>
<path d="M588.1,336.85 L588.1,343.93 L584.06,343.93 Z" fill="#fff"/>
<path d="M670.2,333.93 L675.9,343.93 L664.5,343.93 Z" fill="#0000ff"/>
<path d="M670.2,336.05 L670.2,343.13 L666.16,343.13 Z" fill="#fff"/>
<path d="M423.8,535.43 L429.5,545.43 L418.1,545.43 Z" fill="#ff00ff"/>
<path d="M423.8,537.55 L423.8,544.63 L419.76,544.63 Z" fill="#fff"/>
<path d="M437.4,360.53 L443.1,370.53 L431.7,370.53 Z" fill="#ff00ff"/>
<path d="M437.4,362.65 L437.4,369.73 L433.36,369.73 Z" fill="#fff"/>
<path d="M451.2,338.03 L456.9,348.03 L445.5,348.03 Z" fill="#ff00ff"/>
<path d="M451.2,340.15 L451.2,347.23 L447.16,347.23 Z" fill="#fff"/>
<path d="M464.9,338.23 L470.6,348.23 L459.2,348.23 Z" fill="#ff00ff"/>
<path d="M464.9,340.35 L464.9,347.43 L460.86,347.43 Z" fill="#fff"/>
<path d="M505.9,340.23 L511.6,350.23 L500.2,350.23 Z" fill="#ff00ff"/>
<path d="M505.9,342.35 L505.9,349.43 L501.86,349.43 Z" fill="#fff"/>
<path d="M588.1,334.93 L593.8,344.93 L582.4,344.93 Z" fill="#ff00ff"/>
<path d="M588.1,337.05 L588.1,344.13 L584.06,344.13 Z" fill="#fff"/>
<path d="M670.2,334.43 L675.9,344.43 L664.5,344.43 Z" fill="#ff00ff"/>
<path d="M670.2,336.55 L670.2,343.63 L666.16,343.63 Z" fill="#fff"/>
<circle cx="423.9" cy="345.9" r="5" fill="url(#gk)"/>
<circle cx="423.9" cy="341" r="5" fill="url(#gr)"/>
<circle cx="423.9" cy="341.5" r="5" fill="url(#gb)"/>
<circle cx="423.9" cy="341.6" r="5" fill="url(#gm)"/>
<circle cx="437" cy="542.2" r="5" fill="url(#gk)"/>
<circle cx="437" cy="542.3" r="5" fill="url(#gr)"/>
<path d="M437,527 V541 M435.6,527 H438.4 M435.6,541 H438.4" stroke="#0000ff" stroke-width="1.0" fill="none"/>
<circle cx="437" cy="535.5" r="5" fill="url(#gb)"/>
<circle cx="437" cy="518.7" r="5" fill="url(#gm)"/>
<circle cx="451.2" cy="542.2" r="5" fill="url(#gk)"/>
<circle cx="451.2" cy="542.2" r="5" fill="url(#gr)"/>
<circle cx="451.2" cy="542.2" r="5" fill="url(#gb)"/>
<circle cx="451.2" cy="542.2" r="5" fill="url(#gm)"/>
<circle cx="464.9" cy="542.2" r="5" fill="url(#gk)"/>
<circle cx="464.9" cy="542.2" r="5" fill="url(#gr)"/>
<circle cx="464.9" cy="542.2" r="5" fill="url(#gb)"/>
<circle cx="464.9" cy="542.2" r="5" fill="url(#gm)"/>
<circle cx="505.9" cy="542.2" r="5" fill="url(#gk)"/>
<circle cx="505.9" cy="542.2" r="5" fill="url(#gr)"/>
<circle cx="505.9" cy="542.2" r="5" fill="url(#gb)"/>
<circle cx="505.9" cy="542.2" r="5" fill="url(#gm)"/>
<circle cx="588.1" cy="542.2" r="5" fill="url(#gk)"/>
<circle cx="588.1" cy="542.2" r="5" fill="url(#gr)"/>
<circle cx="588.1" cy="542.2" r="5" fill="url(#gb)"/>
<circle cx="588.1" cy="542.2" r="5" fill="url(#gm)"/>
<circle cx="670.2" cy="542.2" r="5" fill="url(#gk)"/>
<circle cx="670.2" cy="542.2" r="5" fill="url(#gr)"/>
<circle cx="670.2" cy="542.2" r="5" fill="url(#gb)"/>
<circle cx="670.2" cy="542.2" r="5" fill="url(#gm)"/>
<path d="M445.3,422.4 H454.9 M467.5,422.4 H476.7" stroke="#000000" stroke-width="1.9"/>
<circle cx="461.2" cy="422.4" r="4.9" fill="url(#gk)"/>
<text x="480.3" y="427" font-size="13.2" text-anchor="start">pH=3 PMSO</text>
<path d="M558.9,422.4 H568.8 M580.2,422.4 H590.1" stroke="#000000" stroke-width="1.9"/>
<path d="M574.5,416 L580.05,425.6 L568.95,425.6 Z" fill="#000000"/>
<path d="M574.5,418.1 L574.5,424.8 L570.63,424.8 Z" fill="#fff"/>
<text x="593.8" y="427" font-size="13.2" text-anchor="start">pH=3 PMSO<tspan font-size="9.5" dy="3.6">2</tspan></text>
<path d="M445.3,442.1 H454.9 M467.5,442.1 H476.7" stroke="#ff0000" stroke-width="1.9"/>
<circle cx="461.2" cy="442.1" r="4.9" fill="url(#gr)"/>
<text x="480.3" y="446.7" font-size="13.2" text-anchor="start">pH=5 PMSO</text>
<path d="M558.9,442.1 H568.8 M580.2,442.1 H590.1" stroke="#ff0000" stroke-width="1.9"/>
<path d="M574.5,435.7 L580.05,445.3 L568.95,445.3 Z" fill="#ff0000"/>
<path d="M574.5,437.8 L574.5,444.5 L570.63,444.5 Z" fill="#fff"/>
<text x="593.8" y="446.7" font-size="13.2" text-anchor="start">pH=5 PMSO<tspan font-size="9.5" dy="3.6">2</tspan></text>
<path d="M445.3,461.9 H454.9 M467.5,461.9 H476.7" stroke="#0000ff" stroke-width="1.9"/>
<circle cx="461.2" cy="461.9" r="4.9" fill="url(#gb)"/>
<text x="480.3" y="466.5" font-size="13.2" text-anchor="start">pH=7 PMSO</text>
<path d="M558.9,461.9 H568.8 M580.2,461.9 H590.1" stroke="#0000ff" stroke-width="1.9"/>
<path d="M574.5,455.5 L580.05,465.1 L568.95,465.1 Z" fill="#0000ff"/>
<path d="M574.5,457.6 L574.5,464.3 L570.63,464.3 Z" fill="#fff"/>
<text x="593.8" y="466.5" font-size="13.2" text-anchor="start">pH=7 PMSO<tspan font-size="9.5" dy="3.6">2</tspan></text>
<path d="M445.3,481.8 H454.9 M467.5,481.8 H476.7" stroke="#ff00ff" stroke-width="1.9"/>
<circle cx="461.2" cy="481.8" r="4.9" fill="url(#gm)"/>
<text x="480.3" y="486.4" font-size="13.2" text-anchor="start">pH=9 PMSO</text>
<path d="M558.9,481.8 H568.8 M580.2,481.8 H590.1" stroke="#ff00ff" stroke-width="1.9"/>
<path d="M574.5,475.4 L580.05,485 L568.95,485 Z" fill="#ff00ff"/>
<path d="M574.5,477.5 L574.5,484.2 L570.63,484.2 Z" fill="#fff"/>
<text x="593.8" y="486.4" font-size="13.2" text-anchor="start">pH=9 PMSO<tspan font-size="9.5" dy="3.6">2</tspan></text>
</svg>
</body></html>
